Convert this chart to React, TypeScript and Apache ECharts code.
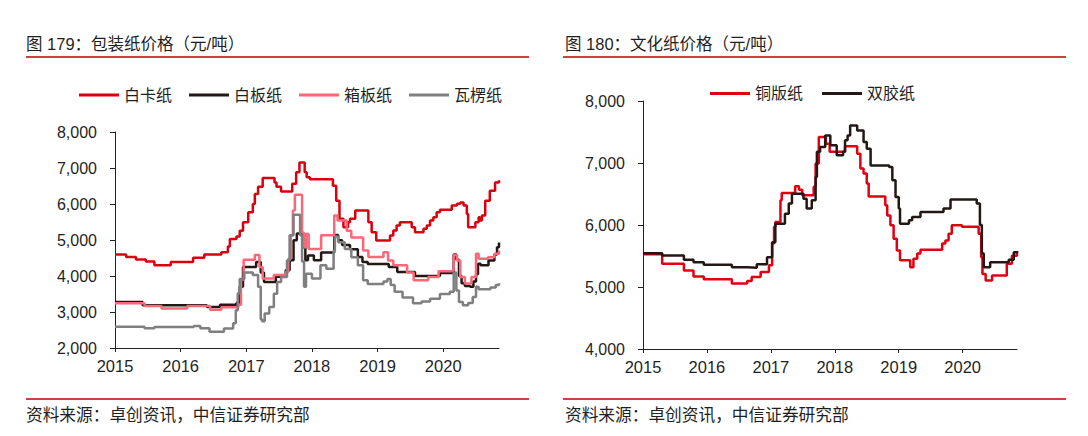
import React, { useEffect, useRef } from "react";
import * as echarts from "echarts";

// ---------- data ----------
const YEARS = [2015, 2016, 2017, 2018, 2019, 2020];
const X_MIN = 2015;
const X_MAX = 2020.85;

const LEFT_TITLE = "图 179：包装纸价格（元/吨）";
const RIGHT_TITLE = "图 180：文化纸价格（元/吨）";
const SOURCE = "资料来源：卓创资讯，中信证券研究部";

const LEFT_NAMES = ["白卡纸", "白板纸", "箱板纸", "瓦楞纸"];
const RIGHT_NAMES = ["铜版纸", "双胶纸"];

// [decimal year, price]
const whiteCard: [number, number][] = [
  [2015.0, 4600], [2015.17, 4530], [2015.32, 4460], [2015.47, 4405], [2015.6, 4300],
  [2015.85, 4390], [2016.19, 4510], [2016.36, 4600], [2016.62, 4660], [2016.72, 4820],
  [2016.75, 5030], [2016.85, 5100], [2016.9, 5260], [2016.95, 5490], [2017.03, 5770],
  [2017.1, 6000], [2017.13, 6280], [2017.18, 6480], [2017.25, 6720], [2017.43, 6600],
  [2017.46, 6480], [2017.53, 6350], [2017.7, 6560], [2017.76, 6880], [2017.81, 7155],
  [2017.89, 6880], [2017.92, 6740], [2017.97, 6690], [2018.32, 6510], [2018.37, 6090],
  [2018.42, 5590], [2018.48, 5355], [2018.55, 5495], [2018.58, 5590], [2018.66, 5820],
  [2018.86, 5495], [2018.91, 5215], [2018.98, 4985], [2019.19, 5125], [2019.24, 5265],
  [2019.29, 5400], [2019.34, 5495], [2019.52, 5355], [2019.57, 5215], [2019.7, 5310],
  [2019.75, 5400], [2019.8, 5540], [2019.85, 5630], [2019.9, 5770], [2019.95, 5840],
  [2020.13, 5955], [2020.21, 6005], [2020.26, 6045], [2020.31, 5955], [2020.36, 5725],
  [2020.38, 5355], [2020.49, 5495], [2020.54, 5630], [2020.56, 5540], [2020.59, 5680],
  [2020.64, 6090], [2020.71, 6370], [2020.79, 6600], [2020.85, 6660],
];

const whiteBoard: [number, number][] = [
  [2015.0, 3280], [2015.42, 3190], [2016.4, 3140], [2016.6, 3200], [2016.85, 3250],
  [2016.9, 3700], [2016.95, 4250], [2017.15, 4390], [2017.22, 4100], [2017.27, 3830],
  [2017.45, 3980], [2017.6, 4160], [2017.66, 4440], [2017.72, 4990], [2017.77, 5180],
  [2017.86, 4800], [2017.9, 4440], [2017.94, 4570], [2018.03, 4435], [2018.14, 4650],
  [2018.34, 5140], [2018.4, 4990], [2018.46, 4860], [2018.58, 4740], [2018.7, 4530],
  [2018.77, 4390], [2018.85, 4335], [2019.17, 4250], [2019.3, 4110], [2019.57, 4000],
  [2019.95, 4080], [2020.16, 4600], [2020.2, 4450], [2020.24, 4000], [2020.28, 3800],
  [2020.33, 3720], [2020.41, 3700], [2020.46, 3850], [2020.5, 4050], [2020.53, 4340],
  [2020.57, 4300], [2020.69, 4430], [2020.78, 4600], [2020.82, 4800], [2020.85, 4930],
];

const boxBoard: [number, number][] = [
  [2015.0, 3240], [2015.45, 3170], [2015.71, 3100], [2016.1, 3170], [2016.45, 3060],
  [2016.62, 3130], [2016.88, 3200], [2016.92, 3900], [2016.96, 4450], [2017.13, 4580],
  [2017.2, 4250], [2017.25, 3930], [2017.42, 4030], [2017.6, 4110], [2017.64, 4480],
  [2017.68, 5130], [2017.71, 5820], [2017.74, 6260], [2017.85, 5200], [2017.88, 4800],
  [2017.91, 5170], [2017.95, 4750], [2018.14, 5130], [2018.34, 5680], [2018.39, 5540],
  [2018.53, 5260], [2018.6, 5070], [2018.78, 4710], [2018.86, 4530], [2019.09, 4660],
  [2019.16, 4430], [2019.24, 4300], [2019.45, 4100], [2019.55, 3880], [2019.77, 3970],
  [2019.93, 4130], [2020.14, 4160], [2020.16, 4580], [2020.21, 4430], [2020.26, 3970],
  [2020.33, 3790], [2020.43, 3970], [2020.5, 4620], [2020.54, 4480], [2020.68, 4520],
  [2020.78, 4620], [2020.85, 4710],
];

const corrugated: [number, number][] = [
  [2015.0, 2590], [2015.45, 2550], [2015.6, 2580], [2016.2, 2610], [2016.3, 2550],
  [2016.44, 2450], [2016.66, 2540], [2016.8, 2690], [2016.84, 3050], [2016.87, 3520],
  [2016.9, 3920], [2016.97, 4100], [2017.1, 4030], [2017.18, 3700], [2017.22, 2800],
  [2017.24, 2740], [2017.28, 2960], [2017.35, 3140], [2017.42, 3510], [2017.47, 3830],
  [2017.53, 3970], [2017.62, 4430], [2017.66, 5130], [2017.72, 5700], [2017.82, 5130],
  [2017.85, 4400], [2017.88, 3700], [2017.91, 4060], [2018.0, 3930], [2018.13, 4300],
  [2018.22, 4200], [2018.33, 4700], [2018.35, 5100], [2018.4, 4940], [2018.5, 4750],
  [2018.6, 4520], [2018.7, 4300], [2018.78, 3880], [2018.85, 3780], [2019.09, 3850],
  [2019.15, 3920], [2019.2, 3750], [2019.26, 3560], [2019.38, 3400], [2019.54, 3240],
  [2019.67, 3290], [2019.8, 3370], [2019.95, 3500], [2020.1, 3560], [2020.16, 4100],
  [2020.2, 3600], [2020.24, 3280], [2020.3, 3190], [2020.38, 3250], [2020.45, 3420],
  [2020.5, 3700], [2020.54, 3630], [2020.72, 3680], [2020.8, 3750], [2020.85, 3800],
];

const coated: [number, number][] = [
  [2015.0, 5530], [2015.3, 5375], [2015.64, 5265], [2015.79, 5170], [2015.95, 5125],
  [2016.39, 5055], [2016.63, 5095], [2016.7, 5160], [2016.84, 5240], [2016.97, 5350],
  [2017.02, 5700], [2017.05, 5970], [2017.07, 6050], [2017.15, 6400], [2017.17, 6515],
  [2017.38, 6625], [2017.44, 6570], [2017.49, 6480], [2017.67, 6615], [2017.7, 6990],
  [2017.75, 7420], [2017.86, 7310], [2017.92, 7180], [2018.16, 7270], [2018.35, 7150],
  [2018.4, 6910], [2018.45, 6830], [2018.5, 6670], [2018.53, 6460], [2018.79, 6320],
  [2018.82, 6155], [2018.87, 5995], [2018.92, 5780], [2018.97, 5590], [2019.02, 5430],
  [2019.18, 5320], [2019.23, 5455], [2019.29, 5540], [2019.34, 5600], [2019.68, 5700],
  [2019.73, 5750], [2019.78, 5860], [2019.83, 5995], [2019.99, 5970], [2020.25, 5860],
  [2020.29, 5480], [2020.31, 5210], [2020.36, 5105], [2020.46, 5185], [2020.69, 5375],
  [2020.77, 5505], [2020.85, 5580],
];

const uncoated: [number, number][] = [
  [2015.0, 5545], [2015.3, 5510], [2015.64, 5440], [2015.79, 5400], [2015.95, 5360],
  [2016.39, 5320], [2016.63, 5310], [2016.78, 5365], [2016.94, 5480], [2017.02, 5720],
  [2017.07, 6020], [2017.22, 6180], [2017.28, 6345], [2017.33, 6505], [2017.51, 6425],
  [2017.56, 6265], [2017.64, 6400], [2017.7, 6775], [2017.72, 7180], [2017.77, 7260],
  [2017.85, 7445], [2017.93, 7285], [2018.03, 7125], [2018.13, 7180], [2018.16, 7365],
  [2018.2, 7445], [2018.24, 7605], [2018.35, 7525], [2018.45, 7340], [2018.5, 7230],
  [2018.56, 6960], [2018.85, 6935], [2018.9, 6720], [2018.95, 6450], [2019.0, 6265],
  [2019.02, 6020], [2019.16, 6075], [2019.21, 6130], [2019.34, 6210], [2019.7, 6265],
  [2019.81, 6410], [2020.22, 6345], [2020.27, 6000], [2020.3, 5540], [2020.33, 5320],
  [2020.43, 5400], [2020.72, 5440], [2020.8, 5560], [2020.85, 5580],
];

// ---------- styles ----------
const FONT = "'Liberation Sans', 'Noto Sans CJK SC', sans-serif";
const TEXT = "#1f1f1f";
const RULE = "#C00000";
const C_RED = "#D9000F";
const C_BLACK = "#231815";
const C_PINK = "#F86878";
const C_GREY = "#7F7F7F";

function xAxis(gridIndex: number) {
  return {
    type: "value",
    gridIndex,
    min: X_MIN,
    max: X_MAX,
    interval: 1,
    axisLine: { show: true, lineStyle: { color: "#222", width: 1 } },
    axisTick: { show: true, length: 4, lineStyle: { color: "#222" }, customValues: YEARS },
    axisLabel: {
      customValues: YEARS,
      formatter: (v: number) => String(Math.round(v)),
      fontSize: 16.5,
      color: TEXT,
      fontFamily: FONT,
      margin: 10,
    },
    splitLine: { show: false },
  };
}

function yAxis(gridIndex: number, min: number, max: number) {
  return {
    type: "value",
    gridIndex,
    min,
    max,
    interval: 1000,
    axisLine: { show: true, lineStyle: { color: "#222", width: 1 } },
    axisTick: { show: true, length: 5, lineStyle: { color: "#222" } },
    axisLabel: {
      formatter: (v: number) => v.toLocaleString("en-US"),
      fontSize: 16,
      color: TEXT,
      fontFamily: FONT,
      margin: 18,
    },
    splitLine: { show: false },
  };
}

function line(name: string, data: [number, number][], color: string, axis: number) {
  return {
    type: "line",
    name,
    data,
    xAxisIndex: axis,
    yAxisIndex: axis,
    step: "end",
    showSymbol: false,
    symbol: "none",
    lineStyle: { color, width: 2.5 },
    itemStyle: { color },
  };
}

function text(x: number, y: number, t: string, size: number) {
  return {
    type: "text",
    x,
    y,
    style: {
      text: t,
      fill: TEXT,
      font: `${size}px ${FONT}`,
      textVerticalAlign: "middle",
      verticalAlign: "middle",
    },
  };
}

function rule(x1: number, x2: number, y: number) {
  return {
    type: "line",
    shape: { x1, y1: y, x2, y2: y },
    style: { stroke: RULE, lineWidth: 1.3 },
  };
}

export default function App() {
  const ref = useRef<HTMLDivElement>(null);

  useEffect(() => {
    document.body.style.margin = "0";
    if (!ref.current) return;
    const chart = echarts.init(ref.current, undefined, { renderer: "svg" });
    const legendCommon = {
      icon: "rect",
      itemWidth: 40,
      itemHeight: 3,
      padding: 0,
      textStyle: { fontSize: 16, color: TEXT, fontFamily: FONT },
      selectedMode: false,
    };
    chart.setOption({
      animation: false,
      grid: [
        { left: 115, top: 132, width: 384, height: 216, containLabel: false },
        { left: 643, top: 101, width: 374, height: 248, containLabel: false },
      ],
      legend: [
        { ...legendCommon, data: LEFT_NAMES, left: 79, top: 87, itemGap: 17 },
        { ...legendCommon, data: RIGHT_NAMES, left: 710, top: 85.5, itemGap: 19 },
      ],
      xAxis: [xAxis(0), xAxis(1)],
      yAxis: [yAxis(0, 2000, 8000), yAxis(1, 4000, 8000)],
      series: [
        line(LEFT_NAMES[0], whiteCard, C_RED, 0),
        line(LEFT_NAMES[1], whiteBoard, C_BLACK, 0),
        line(LEFT_NAMES[2], boxBoard, C_PINK, 0),
        line(LEFT_NAMES[3], corrugated, C_GREY, 0),
        line(RIGHT_NAMES[0], coated, "#E00012", 1),
        line(RIGHT_NAMES[1], uncoated, C_BLACK, 1),
      ],
      graphic: [
        text(26, 44, LEFT_TITLE, 16.5),
        text(565, 44, RIGHT_TITLE, 16.5),
        rule(26, 529, 57),
        rule(563, 1066, 57),
        rule(26, 529, 399),
        rule(563, 1066, 399),
        text(26, 415, SOURCE, 16.7),
        text(565, 415, SOURCE, 16.7),
      ],
    });
    return () => chart.dispose();
  }, []);

  return <div ref={ref} style={{ width: 1088, height: 436 }} />;
}
